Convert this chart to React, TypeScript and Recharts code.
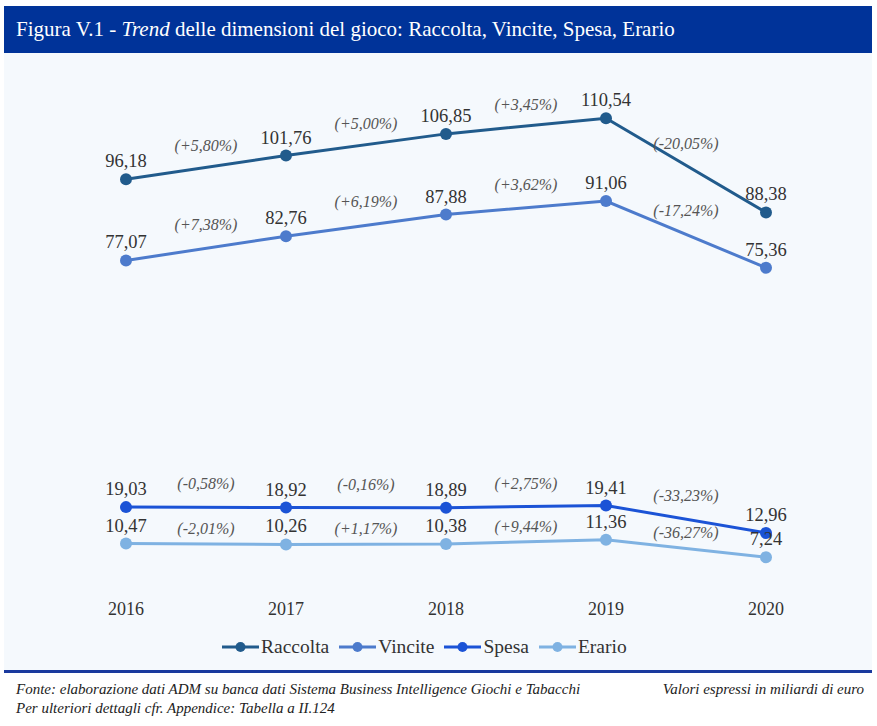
import { LineChart, Line, XAxis, YAxis, LabelList } from "recharts";

const years = [2016, 2017, 2018, 2019, 2020];
const raccolta = [96.18, 101.76, 106.85, 110.54, 88.38];
const vincite = [77.07, 82.76, 87.88, 91.06, 75.36];
const spesa = [19.03, 18.92, 18.89, 19.41, 12.96];
const erario = [10.47, 10.26, 10.38, 11.36, 7.24];

// year-on-year changes, shown between two points
const raccoltaVar = ["+5,80%", "+5,00%", "+3,45%", "-20,05%"];
const vinciteVar = ["+7,38%", "+6,19%", "+3,62%", "-17,24%"];
const spesaVar = ["-0,58%", "-0,16%", "+2,75%", "-33,23%"];
const erarioVar = ["-2,01%", "+1,17%", "+9,44%", "-36,27%"];

const series = [
  { key: "Raccolta", values: raccolta, vars: raccoltaVar, color: "#215b8c", pctOffset: 16 },
  { key: "Vincite", values: vincite, vars: vinciteVar, color: "#4d7bcc", pctOffset: 18 },
  { key: "Spesa", values: spesa, vars: spesaVar, color: "#1b53d6", pctOffset: 18 },
  { key: "Erario", values: erario, vars: erarioVar, color: "#7fb2e2", pctOffset: 10 },
];

const data = years.map((year, i) => {
  const row: Record<string, number> = { year };
  series.forEach(s => (row[s.key] = s.values[i]));
  return row;
});

// midpoints of each segment, only used to place the % labels
const midData = (values: number[], vars: string[]) =>
  years.slice(1).map((y, i) => ({
    year: (years[i] + y) / 2,
    mid: (values[i] + values[i + 1]) / 2,
    label: `(${vars[i]})`,
  }));

const fmt = (v: any) => Number(v).toFixed(2).replace(".", ",");

const serif = "'Liberation Serif', 'DejaVu Serif', serif";

export default function App() {
  return (
    <div style={{ position: "absolute", left: 0, top: 0, width: 877, height: 726, background: "#fff", fontFamily: serif }}>
      <div
        style={{
          position: "absolute", left: 4, top: 6, width: 856, height: 47, paddingLeft: 12,
          background: "#003399", color: "#fff", fontSize: 21, lineHeight: "47px", fontFamily: serif,
        }}
      >
        Figura V.1 - <i>Trend</i> delle dimensioni del gioco: Raccolta, Vincite, Spesa, Erario
      </div>

      <div style={{ position: "absolute", left: 4, top: 53, width: 868, height: 617, background: "#f5f9fd" }}>
        <LineChart
          width={868}
          height={617}
          data={data}
          margin={{ top: 25, right: 26, left: 42, bottom: 52 }}
          style={{ fontFamily: serif }}
        >
          <XAxis
            dataKey="year"
            type="number"
            domain={[2015.5, 2020.5]}
            ticks={years}
            axisLine={false}
            tickLine={false}
            tickSize={0}
            tickMargin={14}
            tick={{ fill: "#333", fontSize: 18, fontFamily: serif }}
          />
          <YAxis hide domain={[0, 120]} />
          {series.map(s => (
            <Line
              key={s.key}
              dataKey={s.key}
              stroke={s.color}
              strokeWidth={3}
              dot={{ r: 6, fill: s.color, stroke: "none" }}
              activeDot={false}
              isAnimationActive={false}
            >
              <LabelList
                dataKey={s.key}
                position="top"
                offset={12}
                formatter={fmt}
                fill="#333"
                fontSize={18.5}
                fontFamily={serif}
              />
            </Line>
          ))}
          {series.map(s => (
            <Line
              key={s.key + "-var"}
              data={midData(s.values, s.vars)}
              dataKey="mid"
              stroke="none"
              dot={false}
              activeDot={false}
              legendType="none"
              isAnimationActive={false}
            >
              <LabelList
                dataKey="label"
                position="top"
                offset={s.pctOffset}
                fill="#555"
                fontSize={16}
                fontStyle="italic"
                fontFamily={serif}
              />
            </Line>
          ))}
        </LineChart>

        <div
          style={{
            position: "absolute", left: 218, top: 583, display: "flex", alignItems: "center",
            fontSize: 19.5, color: "#333", fontFamily: serif,
          }}
        >
          {series.map(s => (
            <div key={s.key} style={{ display: "flex", alignItems: "center", marginRight: 10 }}>
              <svg width={37} height={14} style={{ marginRight: 2 }}>
                <line x1={0} y1={7} x2={37} y2={7} stroke={s.color} strokeWidth={3} />
                <circle cx={18.5} cy={7} r={5} fill={s.color} />
              </svg>
              <span>{s.key}</span>
            </div>
          ))}
        </div>
      </div>

      <div style={{ position: "absolute", left: 4, top: 670, width: 868, height: 3, background: "#1a3a9e" }} />

      <div style={{ position: "absolute", left: 16, top: 680, fontSize: 15, lineHeight: "19px", fontStyle: "italic", color: "#222", fontFamily: serif }}>
        Fonte: elaborazione dati ADM su banca dati Sistema Business Intelligence Giochi e Tabacchi
        <br />
        Per ulteriori dettagli cfr. Appendice: Tabella a II.124
      </div>
      <div style={{ position: "absolute", right: 13, top: 680, fontSize: 15, lineHeight: "19px", fontStyle: "italic", color: "#222", fontFamily: serif }}>
        Valori espressi in miliardi di euro
      </div>
    </div>
  );
}
